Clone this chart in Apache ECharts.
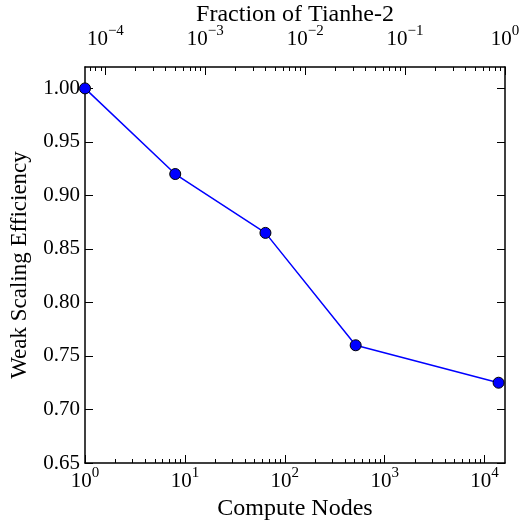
<!DOCTYPE html>
<html>
<head>
<meta charset="utf-8">
<script src="https://cdn.jsdelivr.net/npm/echarts@6/dist/echarts.min.js"></script>
<style>
  html, body { margin: 0; padding: 0; background: #fff; }
  #chart { width: 519px; height: 523px; }
</style>
</head>
<body>
<div id="chart"></div>
<script>
// compute nodes vs weak scaling efficiency
const nodes = [1, 8, 64, 512, 13800];
const efficiency = [1.0, 0.92, 0.865, 0.76, 0.725];
// full machine size, used for the "fraction of Tianhe-2" top axis
const totalNodes = 16000;

const yTicks = [0.65, 0.70, 0.75, 0.80, 0.85, 0.90, 0.95, 1.00];
const yMin = 0.65;
const yMax = 1.02;
const bottomDecades = [0, 1, 2, 3, 4];        // 10^n compute nodes
const topDecades = [-4, -3, -2, -1, 0];       // 10^n fraction
const minorMultipliers = [2, 3, 4, 5, 6, 7, 8, 9];

const FONT = 'Liberation Serif';
const LOG_MAX = Math.log10(totalNodes);

// minor tick positions (in log10 space) between lo and hi
function minorTicks(lo, hi) {
  const out = [];
  for (let n = Math.floor(lo) - 1; n <= Math.ceil(hi); n++) {
    for (const k of minorMultipliers) {
      const v = n + Math.log10(k);
      if (v > lo && v < hi) out.push(v);
    }
  }
  return out;
}

// "10" with a raised exponent
const powLabel = {
  formatter: (v) => {
    const e = Math.round(v);
    const s = e < 0 ? '\u2212' + (-e) : String(e);
    return `{b|10}{s|${s}}`;
  },
  rich: {
    b: { fontFamily: FONT, fontSize: 21, color: '#000', verticalAlign: 'bottom', lineHeight: 26 },
    s: { fontFamily: FONT, fontSize: 15, color: '#000', verticalAlign: 'top', lineHeight: 15 },
  },
};

const titleStyle = { fontFamily: FONT, fontSize: 24, color: '#000' };
const blackLine = { lineStyle: { color: '#000', width: 1.5 } };
const tickLine = { color: '#000', width: 1 };

const chart = echarts.init(document.getElementById('chart'));
chart.setOption({
  backgroundColor: '#fff',
  animation: false,
  grid: { left: 85, right: 14, top: 67, bottom: 60, containLabel: false, outerBoundsMode: 'none' },
  xAxis: [
    // data axis (log scale), hidden
    { type: 'log', logBase: 10, min: 1, max: totalNodes, show: false },
    // bottom: major ticks + labels
    {
      type: 'value', min: 0, max: LOG_MAX, position: 'bottom',
      name: 'Compute Nodes', nameLocation: 'middle', nameGap: 33,
      nameTextStyle: titleStyle,
      axisLine: { show: true, onZero: false, ...blackLine },
      axisTick: { show: true, inside: true, length: 8, customValues: bottomDecades, lineStyle: tickLine },
      axisLabel: { show: true, margin: 3, customValues: bottomDecades, ...powLabel },
      splitLine: { show: false },
    },
    // bottom: minor ticks
    {
      type: 'value', min: 0, max: LOG_MAX, position: 'bottom',
      axisLine: { show: false },
      axisTick: { show: true, inside: true, length: 4, customValues: minorTicks(0, LOG_MAX), lineStyle: tickLine },
      axisLabel: { show: false },
      splitLine: { show: false },
    },
    // top: fraction of machine, major
    {
      type: 'value', min: -LOG_MAX, max: 0, position: 'top',
      name: 'Fraction of Tianhe-2', nameLocation: 'middle', nameGap: 40, nameMoveOverlap: false,
      nameTextStyle: titleStyle,
      axisLine: { show: true, onZero: false, ...blackLine },
      axisTick: { show: true, inside: true, length: 8, customValues: topDecades, lineStyle: tickLine },
      axisLabel: { show: true, margin: 17, customValues: topDecades, ...powLabel },
      splitLine: { show: false },
    },
    // top: minor ticks
    {
      type: 'value', min: -LOG_MAX, max: 0, position: 'top',
      axisLine: { show: false },
      axisTick: { show: true, inside: true, length: 4, customValues: minorTicks(-LOG_MAX, 0), lineStyle: tickLine },
      axisLabel: { show: false },
      splitLine: { show: false },
    },
  ],
  yAxis: [
    {
      type: 'value', min: yMin, max: yMax, position: 'left',
      name: 'Weak Scaling Efficiency', nameLocation: 'middle', nameGap: 54,
      nameTextStyle: { ...titleStyle, fontSize: 23 },
      axisLine: { show: true, onZero: false, ...blackLine },
      axisTick: { show: true, inside: true, length: 8, customValues: yTicks, lineStyle: tickLine },
      axisLabel: {
        show: true, margin: 5, customValues: yTicks,
        fontFamily: FONT, fontSize: 21, color: '#000',
        formatter: (v) => v.toFixed(2),
      },
      splitLine: { show: false },
    },
    {
      type: 'value', min: yMin, max: yMax, position: 'right',
      axisLine: { show: true, onZero: false, ...blackLine },
      axisTick: { show: true, inside: true, length: 8, customValues: yTicks, lineStyle: tickLine },
      axisLabel: { show: false },
      splitLine: { show: false },
    },
  ],
  series: [
    {
      type: 'line',
      xAxisIndex: 0,
      yAxisIndex: 0,
      data: nodes.map((n, i) => [n, efficiency[i]]),
      symbol: 'circle',
      symbolSize: 11,
      lineStyle: { color: '#0000ff', width: 1.5 },
      itemStyle: { color: '#0000ff', borderColor: '#000', borderWidth: 1 },
      clip: false,
      z: 5,
    },
  ],
});
</script>
</body>
</html>
